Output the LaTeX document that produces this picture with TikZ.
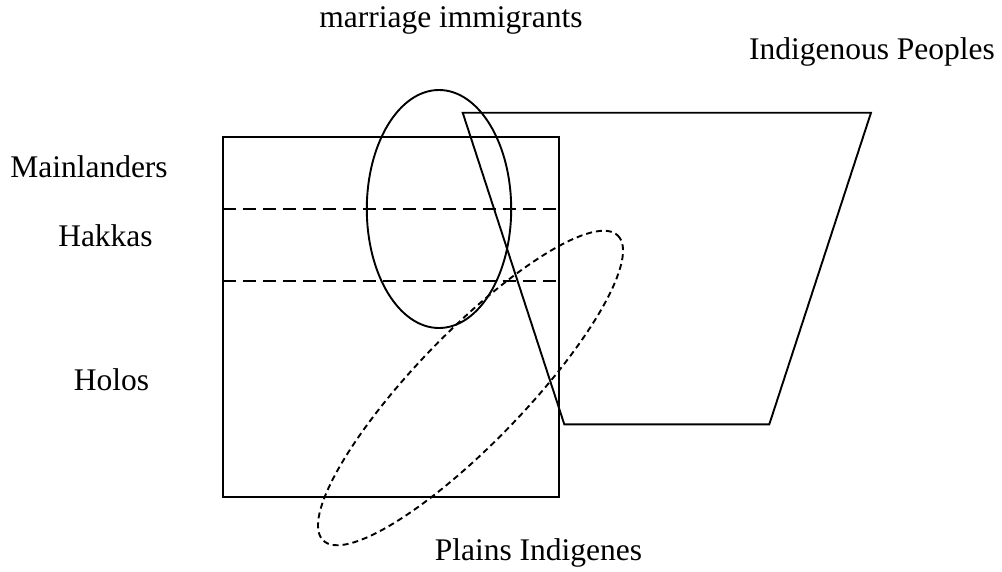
\documentclass[tikz,border=0pt]{standalone}
\usepackage{fontspec}
\setmainfont{Liberation Serif}

\begin{document}
\begin{tikzpicture}[x=1pt,y=-1pt,line width=1.9pt,
  every node/.style={inner sep=0pt,anchor=base,font=\fontsize{31.5pt}{36pt}\selectfont}]
  \useasboundingbox (0,0) rectangle (1002,571);

  % the four groups
  \coordinate (s1) at (222.7,136.7);
  \coordinate (s2) at (558.7,496.7);
  \draw (s1) rectangle (s2);
  \coordinate (d1) at (222.7,208.7);
  \coordinate (d2) at (558.7,208.7);
  \coordinate (d3) at (222.7,281);
  \coordinate (d4) at (558.7,281);
  \draw[dash pattern=on 13pt off 7pt] (d1)--(d2);
  \draw[dash pattern=on 13pt off 7pt] (d3)--(d4);

  % marriage immigrants
  \coordinate (m) at (439,209);
  \draw (m) ellipse [x radius=72.2, y radius=119];

  % indigenous peoples
  \coordinate (t1) at (462.7,112.7);
  \coordinate (t2) at (871,112.7);
  \coordinate (t3) at (769.3,424.3);
  \coordinate (t4) at (564.3,424.3);
  \draw (t1)--(t2)--(t3)--(t4)--cycle;

  % plains indigenes
  \coordinate (p) at (470.5,388);
  \draw[dash pattern=on 6pt off 4pt,rotate around={46:(p)}]
    (p) ellipse [x radius=212, y radius=55];

  \node (mi) at (451,27) {marriage immigrants};
  \node (ip) at (872,59) {Indigenous Peoples};
  \node (ml) at (89,177) {Mainlanders};
  \node (hk) at (105.5,246.7) {Hakkas};
  \node (hl) at (111.5,390) {Holos};
  \node (pi) at (538.5,560) {Plains Indigenes};
\end{tikzpicture}
\end{document}
